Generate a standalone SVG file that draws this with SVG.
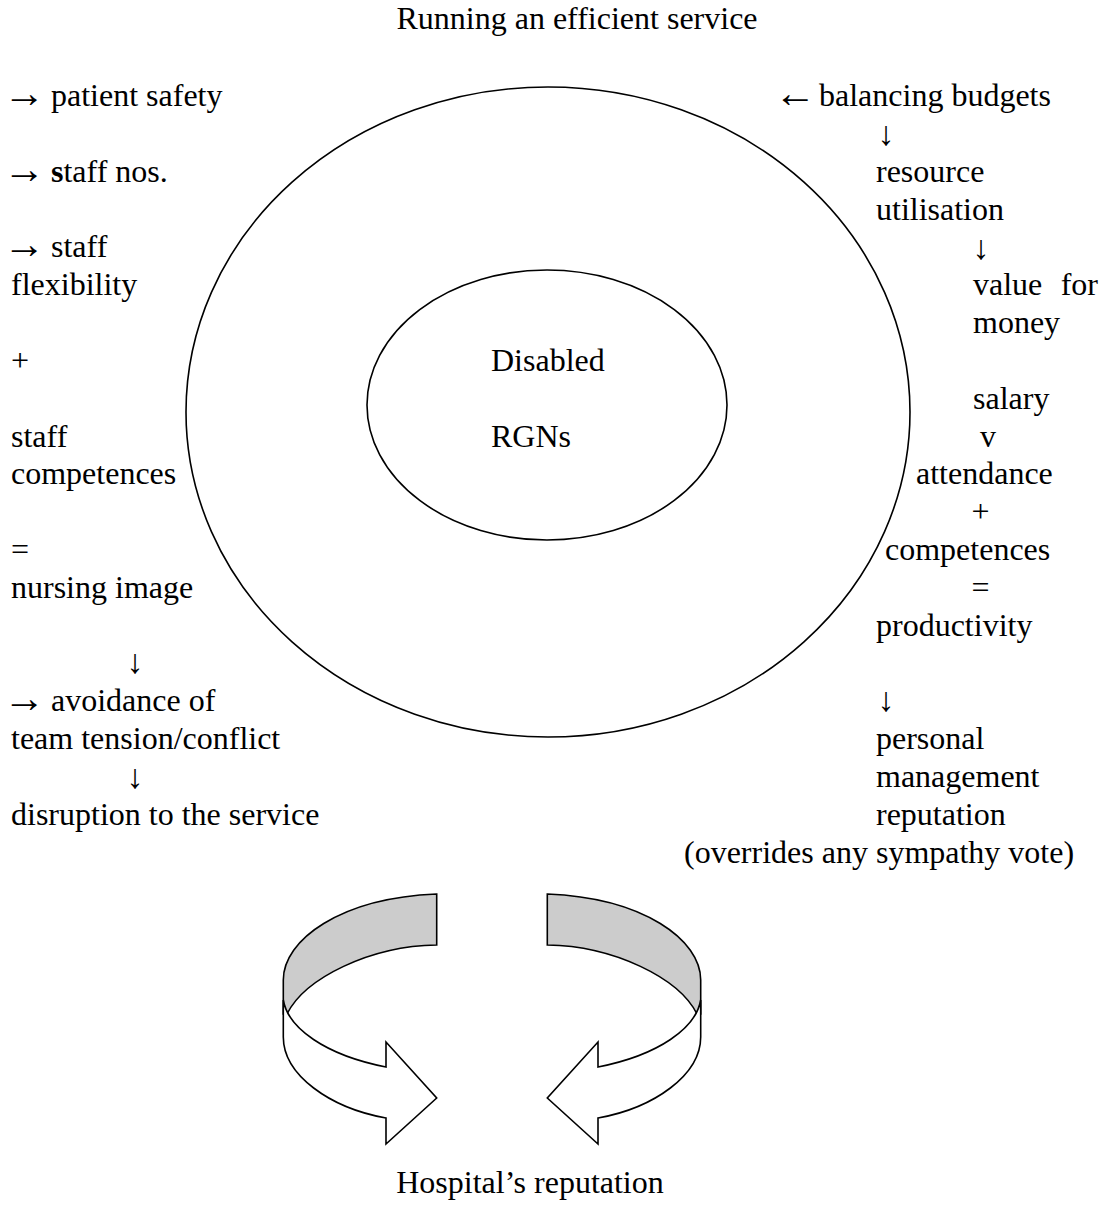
<svg xmlns="http://www.w3.org/2000/svg" width="1105" height="1207" viewBox="0 0 1105 1207">
<style>
text{font-family:"Liberation Serif","Times New Roman",serif;font-size:32px;fill:#000}
.m{text-anchor:middle}
.e{text-anchor:end}
.ah{font-size:42px;text-anchor:middle}
.av{font-size:34px;text-anchor:middle}
.ring{fill:none;stroke:#000;stroke-width:1.6}
.back{fill:#cccccc;stroke:#000;stroke-width:1.6;stroke-linejoin:miter}
.front{fill:#fff;stroke:#000;stroke-width:1.6;stroke-linejoin:miter}
</style>
<rect width="1105" height="1207" fill="#fff"/>
<g id="title"><text class="m" x="577" y="29">Running an efficient service</text></g>
<g id="outer-circle"><ellipse class="ring" cx="548" cy="412" rx="362" ry="325"/></g>
<g id="inner-circle"><ellipse class="ring" cx="547" cy="405" rx="180" ry="135"/>
<text x="491" y="371">Disabled</text>
<text x="491" y="447">RGNs</text></g>
<g id="left-column">
<text class="ah" x="24" y="107">→</text><text x="51" y="106">patient safety</text>
<text class="ah" x="24" y="183">→</text><text x="51" y="182"><tspan font-weight="bold">s</tspan>taff nos.</text>
<text class="ah" x="24" y="258">→</text><text x="51" y="257">staff</text>
<text x="11" y="295">flexibility</text>
<text x="11" y="371">+</text>
<text x="11" y="447">staff</text>
<text x="11" y="484">competences</text>
<text x="11" y="560">=</text>
<text x="11" y="598">nursing image</text>
<text class="av" x="135" y="673">↓</text>
<text class="ah" x="24" y="712">→</text><text x="51" y="711">avoidance of</text>
<text x="11" y="749">team tension/conflict</text>
<text class="av" x="135" y="788">↓</text>
<text x="11" y="825">disruption to the service</text>
</g>
<g id="right-column">
<text class="ah" x="795" y="107">←</text><text x="819" y="106">balancing budgets</text>
<text class="av" x="886" y="145">↓</text>
<text x="876" y="182">resource</text>
<text x="876" y="220">utilisation</text>
<text class="av" x="981" y="259">↓</text>
<text x="973" y="295">value</text><text class="e" x="1098" y="295">for</text>
<text x="973" y="333">money</text>
<text x="973" y="409">salary</text>
<text x="980" y="447">v</text>
<text x="916" y="484">attendance</text>
<text class="m" x="980.5" y="522">+</text>
<text x="885" y="560">competences</text>
<text class="m" x="980.5" y="598">=</text>
<text x="876" y="636">productivity</text>
<text class="av" x="886" y="711">↓</text>
<text x="876" y="749">personal</text>
<text x="876" y="787">management</text>
<text x="876" y="825">reputation</text>
<text x="684" y="863">(overrides any sympathy vote)</text>
</g>
<g id="connectors">
<g id="arrow-left">
<path class="back" d="M436.7,894 C340,898 283.3,940 283.3,980 L283.3,1014 L287,1014 C305,978 370,946 436.7,945 Z"/>
<path class="front" d="M283.3,1000 L283.3,1037 C283.3,1075 330,1108 386,1118 L386,1144 L436.7,1098 L386,1042 L386,1067 C325,1055 288,1028 283.3,1000 Z"/>
</g>
<g id="arrow-right" transform="translate(984,0) scale(-1,1)">
<path class="back" d="M436.7,894 C340,898 283.3,940 283.3,980 L283.3,1014 L287,1014 C305,978 370,946 436.7,945 Z"/>
<path class="front" d="M283.3,1000 L283.3,1037 C283.3,1075 330,1108 386,1118 L386,1144 L436.7,1098 L386,1042 L386,1067 C325,1055 288,1028 283.3,1000 Z"/>
</g>
</g>
<g id="footer"><text class="m" x="530" y="1193">Hospital’s reputation</text></g>
</svg>
